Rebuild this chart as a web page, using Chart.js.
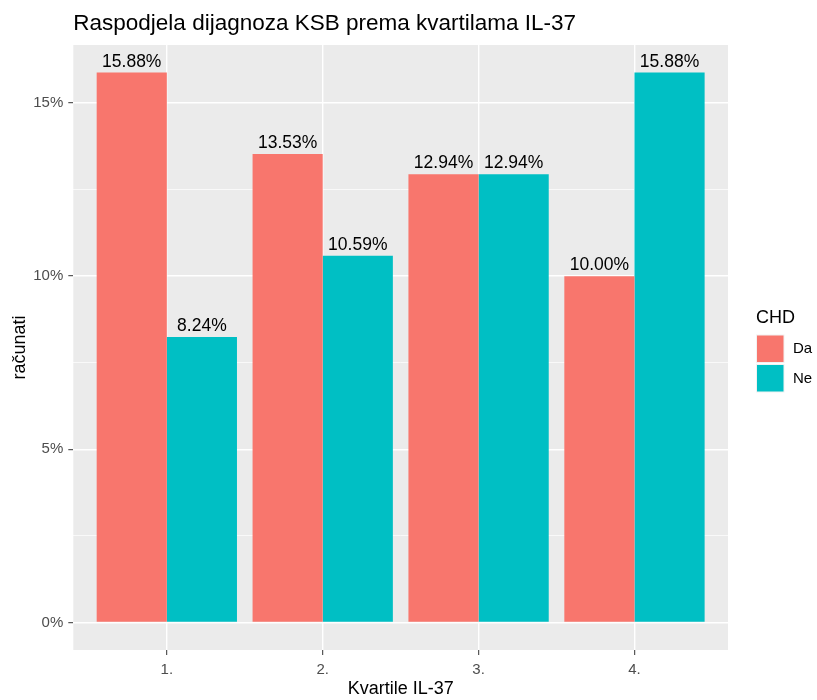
<!DOCTYPE html>
<html>
<head>
<meta charset="utf-8">
<script src="https://cdn.jsdelivr.net/npm/chart.js@4/dist/chart.umd.min.js"></script>
<style>
  body { margin: 0; background: #fff; }
  #wrap { width: 817px; height: 700px; }
</style>
</head>
<body>
<div id="wrap"><canvas id="chart" width="817" height="700"></canvas></div>
<script>
// data (percent of all patients)
const quartiles = ['1.', '2.', '3.', '4.'];
const seriesNames = ['Da', 'Ne'];
const daValues = [15.88, 13.53, 12.94, 10.00];
const neValues = [8.24, 10.59, 12.94, 15.88];
const yGridValues = [0, 2.5, 5, 7.5, 10, 12.5, 15];
const yLabelValues = [0, 5, 10, 15];

const colors = ['#F8766D', '#00BFC4'];
const FONT = 'Liberation Sans, Arial, sans-serif';

// ggplot style 5% expansion of the y range
const yMax = Math.max(...daValues, ...neValues);
const yPad = yMax * 0.05;

const isMajor = v => yLabelValues.includes(v);

// grey panel behind the bars
const panelBg = {
  id: 'panelBg',
  beforeDraw(chart) {
    const { ctx, chartArea: a } = chart;
    ctx.save();
    ctx.fillStyle = '#EBEBEB';
    ctx.fillRect(a.left, a.top, a.right - a.left, a.bottom - a.top);
    ctx.restore();
  }
};

// percent labels above each bar
const barLabels = {
  id: 'barLabels',
  afterDatasetsDraw(chart) {
    const ctx = chart.ctx;
    ctx.save();
    ctx.font = '17.5px ' + FONT;
    ctx.fillStyle = '#000';
    ctx.textAlign = 'center';
    ctx.textBaseline = 'alphabetic';
    chart.data.datasets.forEach((ds, i) => {
      chart.getDatasetMeta(i).data.forEach((bar, j) => {
        ctx.fillText(ds.data[j].y.toFixed(2) + '%', bar.x, bar.y - 6);
      });
    });
    ctx.restore();
  }
};

// legend on the right, ggplot style
const sideLegend = {
  id: 'sideLegend',
  afterDraw(chart) {
    const ctx = chart.ctx;
    ctx.save();
    ctx.fillStyle = '#000';
    ctx.font = '18px ' + FONT;
    ctx.textAlign = 'left';
    ctx.textBaseline = 'alphabetic';
    ctx.fillText('CHD', 756, 323);
    chart.data.datasets.forEach((ds, i) => {
      const top = 334.5 + i * 29.5;
      ctx.fillStyle = '#F2F2F2';
      ctx.fillRect(756, top, 28.5, 28.5);
      ctx.fillStyle = ds.backgroundColor;
      ctx.fillRect(757, top + 1, 26.5, 26.5);
      ctx.fillStyle = '#000';
      ctx.font = '15px ' + FONT;
      ctx.textBaseline = 'middle';
      ctx.fillText(ds.label, 793, top + 14.5);
    });
    ctx.restore();
  }
};

const toPoints = vals => vals.map((v, i) => ({ x: i + 1, y: v }));

new Chart(document.getElementById('chart'), {
  type: 'bar',
  data: {
    datasets: [
      { label: seriesNames[0], data: toPoints(daValues), backgroundColor: colors[0] },
      { label: seriesNames[1], data: toPoints(neValues), backgroundColor: colors[1] }
    ]
  },
  options: {
    responsive: false,
    animation: false,
    devicePixelRatio: 1,
    layout: { padding: { left: 0, right: 89, top: 0, bottom: 0 } },
    datasets: {
      bar: { categoryPercentage: 0.9, barPercentage: 1.0, borderWidth: 0 }
    },
    plugins: {
      legend: { display: false },
      tooltip: { enabled: false },
      title: {
        display: true,
        text: 'Raspodjela dijagnoza KSB prema kvartilama IL-37',
        align: 'start',
        fullSize: false,
        color: '#000',
        font: { family: FONT, size: 22.5, weight: 'normal', lineHeight: 1.2 },
        padding: { top: 10.4, bottom: 7.6 }
      }
    },
    scales: {
      x: {
        type: 'linear',
        offset: false,
        min: 0.4,
        max: quartiles.length + 0.6,
        afterBuildTicks(scale) {
          scale.ticks = quartiles.map((q, i) => ({ value: i + 1 }));
        },
        afterFit(scale) { scale.height = 50; },
        ticks: {
          callback: v => quartiles[v - 1],
          color: '#4D4D4D',
          font: { family: FONT, size: 15 },
          padding: 6,
          maxRotation: 0,
          autoSkip: false
        },
        grid: {
          offset: false,
          color: '#FFFFFF',
          lineWidth: 1.4,
          tickLength: 5,
          tickColor: '#333333',
          tickWidth: 1
        },
        border: { display: false },
        title: {
          display: true,
          text: 'Kvartile IL-37',
          color: '#000',
          font: { family: FONT, size: 18 },
          padding: { top: 0.4, bottom: 0.4 }
        }
      },
      y: {
        min: -yPad,
        max: yMax + yPad,
        afterBuildTicks(scale) {
          scale.ticks = yGridValues.map(v => ({ value: v }));
        },
        afterFit(scale) { scale.width = 73.3; },
        ticks: {
          callback: v => isMajor(v) ? v + '%' : '',
          color: '#4D4D4D',
          font: { family: FONT, size: 15 },
          padding: 5
        },
        grid: {
          color: '#FFFFFF',
          lineWidth: ctx => isMajor(ctx.tick && ctx.tick.value) ? 1.4 : 0.7,
          tickLength: 5,
          tickColor: ctx => isMajor(ctx.tick && ctx.tick.value) ? '#333333' : 'rgba(0,0,0,0)',
          tickWidth: 1
        },
        border: { display: false },
        title: {
          display: true,
          text: 'računati',
          color: '#000',
          font: { family: FONT, size: 18 },
          padding: { top: 9.7, bottom: 0 }
        }
      }
    }
  },
  plugins: [panelBg, barLabels, sideLegend]
});
</script>
</body>
</html>
